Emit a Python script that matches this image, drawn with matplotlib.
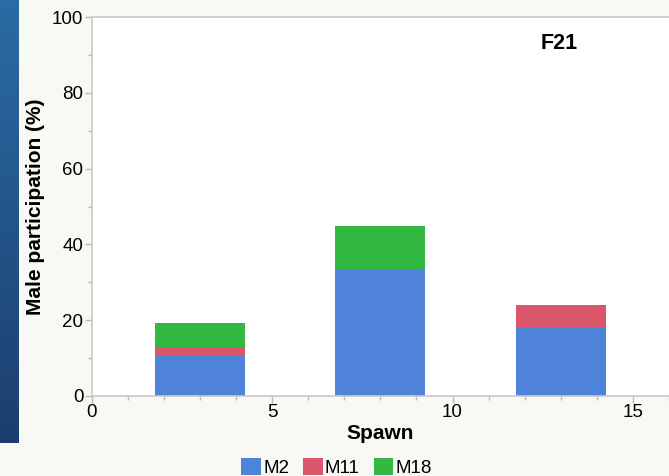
import matplotlib
matplotlib.use('Agg')
import matplotlib.pyplot as plt
import numpy as np
from matplotlib.ticker import MultipleLocator

plt.rcParams['font.family'] = ['Liberation Sans', 'DejaVu Sans']

# Données
spawn = [3, 8, 13]
m2 = [10.7, 33.5, 18.0]
m11 = [2.1, 0.0, 6.1]
m18 = [6.5, 11.25, 0.0]
males = ['M2', 'M11', 'M18']
colors = ['#4f83d9', '#da566a', '#33b942']
panel = 'F21'

fig = plt.figure(figsize=(6.69, 4.76), dpi=100, facecolor='#f8f8f4')

# bandeau bleu à gauche (fond de la diapositive)
deco = fig.add_axes([0, 33 / 476, 19 / 669, 443 / 476])
grad = np.linspace(0, 1, 256).reshape(-1, 1)
deco.imshow(grad, aspect='auto', cmap=matplotlib.colors.LinearSegmentedColormap.from_list(
    'bg', ['#2a6ca4', '#1c3e6e']))
deco.axis('off')

ax = fig.add_axes([91.7 / 669, 80 / 476, 1 - 91.7 / 669, 379 / 476])
ax.set_facecolor('white')

width = 2.5
bottom = np.zeros(len(spawn))
for vals, name, col in zip([m2, m11, m18], males, colors):
    ax.bar(spawn, vals, width=width, bottom=bottom, color=col, label=name)
    bottom += np.array(vals)

ax.set_xlim(0, 16)
ax.set_ylim(0, 100)
ax.xaxis.set_major_locator(MultipleLocator(5))
ax.xaxis.set_minor_locator(MultipleLocator(1))
ax.yaxis.set_major_locator(MultipleLocator(20))
ax.yaxis.set_minor_locator(MultipleLocator(10))

for side in ['left', 'bottom', 'top']:
    ax.spines[side].set_color('#c8c8c8')
    ax.spines[side].set_linewidth(1.2)
ax.spines['right'].set_visible(False)
ax.tick_params(which='major', length=5, width=1, color='#b8b8b8', labelsize=13.5, pad=1)
ax.tick_params(which='minor', length=3, width=1, color='#b8b8b8')

ax.set_xlabel('Spawn', fontsize=15, fontweight='bold', labelpad=2)
ax.set_ylabel('Male participation (%)', fontsize=15, fontweight='bold', labelpad=5)

ax.text(0.81, 0.93, panel, transform=ax.transAxes, ha='center', va='center',
        fontsize=15.5, fontweight='bold')

fig.legend(loc='upper center', bbox_to_anchor=(0.503, 18 / 476), ncol=3, frameon=False,
           fontsize=13.5, handlelength=1.05, handleheight=1.05, handletextpad=0.1,
           columnspacing=0.75, borderpad=0, borderaxespad=0)

fig.savefig('out.png', dpi=100, facecolor=fig.get_facecolor())
